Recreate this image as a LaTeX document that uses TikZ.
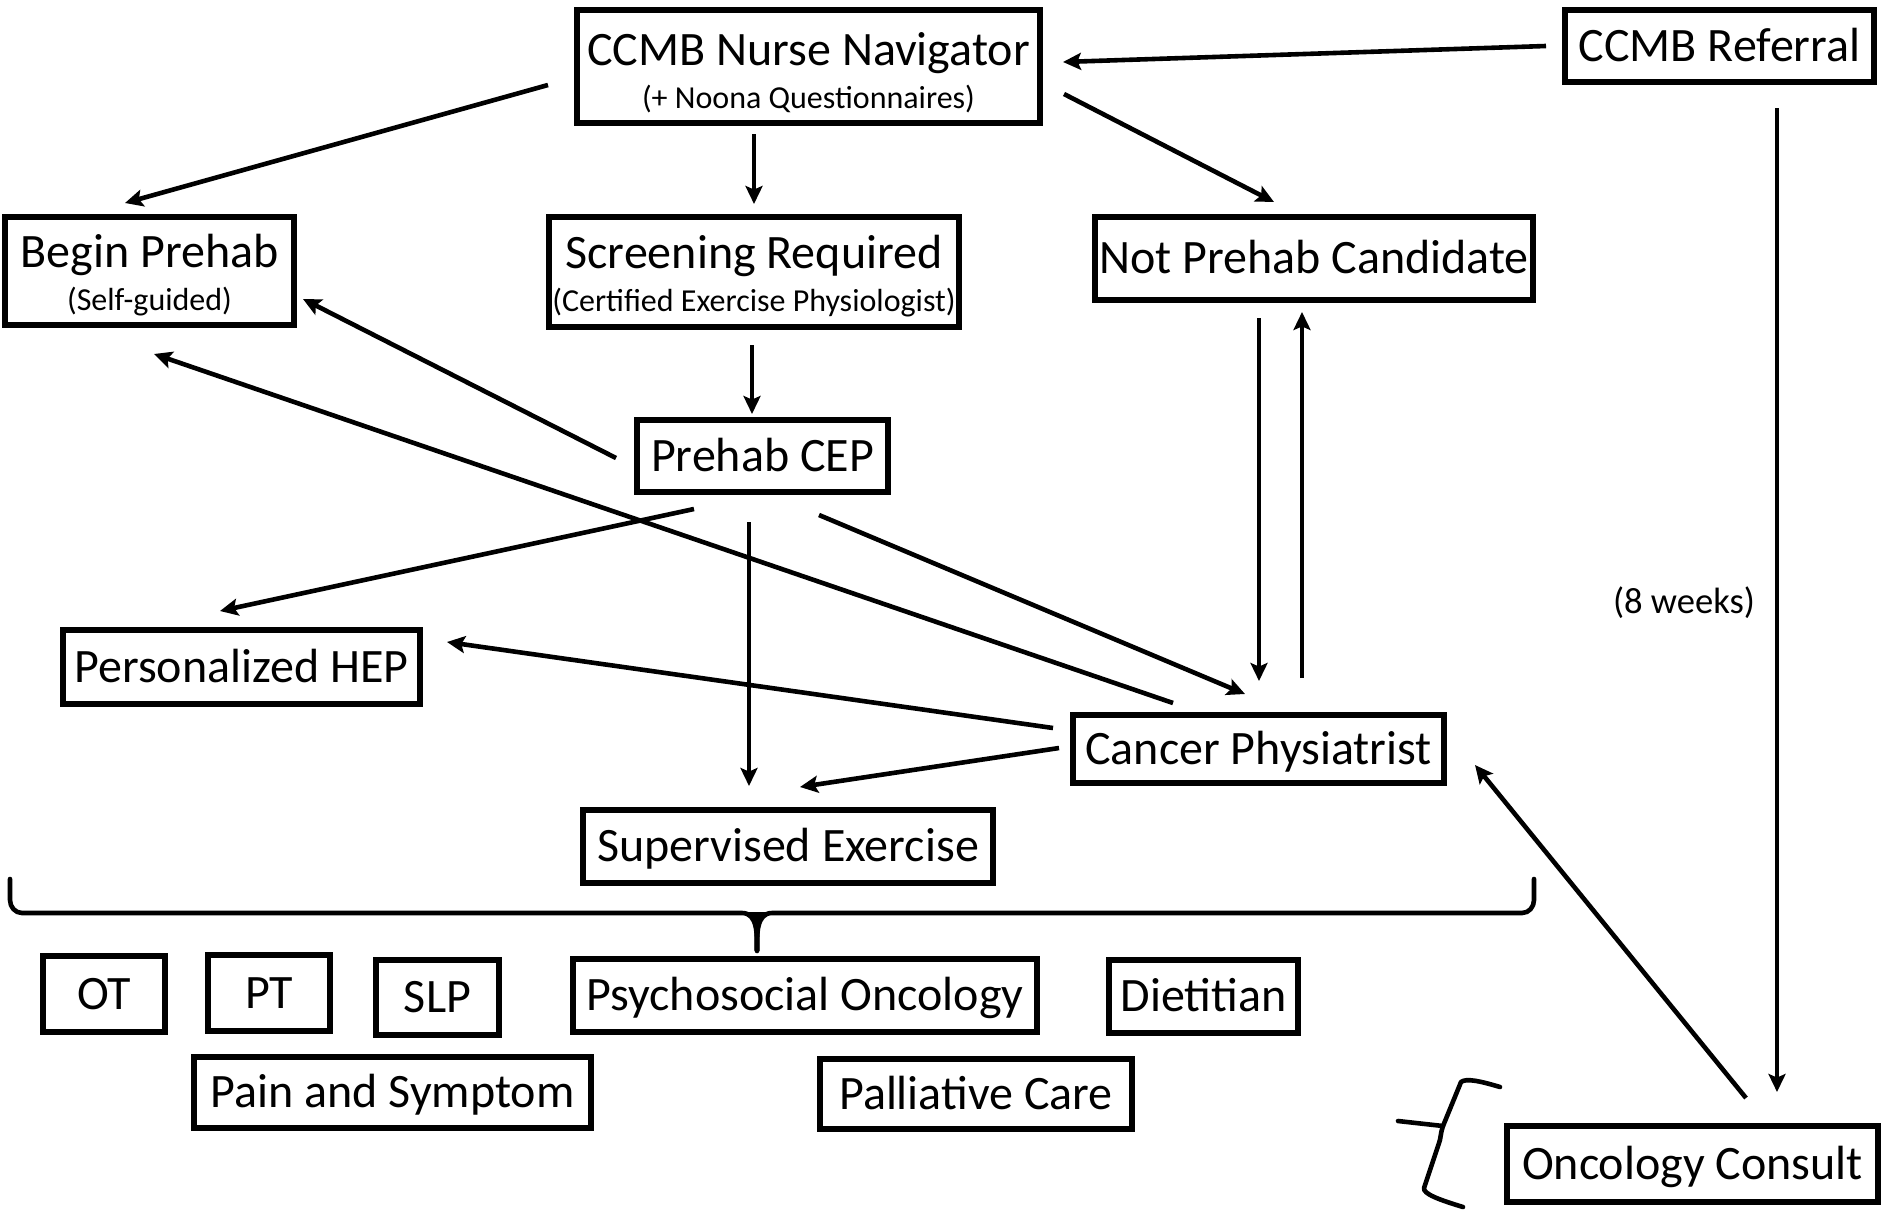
\documentclass[tikz,border=0pt]{standalone}
\usepackage{fontspec}
\setmainfont{Carlito}
\usetikzlibrary{arrows.meta,calc}
\newcommand\mfs{\fontsize{24pt}{28pt}\selectfont}
\newcommand\sfs{\fontsize{16pt}{19pt}\selectfont}
\newcommand\wfs{\fontsize{18.3pt}{22pt}\selectfont}
\begin{document}
\begin{tikzpicture}[x=0.5pt,y=-0.5pt,
  box/.style={draw,line width=2.8pt,inner sep=0pt,font=\mfs,text height=15.2pt,text depth=0pt},
  wh/.style 2 args={minimum width=#1*0.5pt-2.8pt,minimum height=#2*0.5pt-2.8pt},
  txtmain/.style={anchor=base,inner sep=0pt,font=\mfs},
  txtsmall/.style={anchor=base,inner sep=0pt,font=\sfs},
  arr/.style={line width=2.3pt,-{Stealth[length=9pt,width=8.5pt,inset=1.8pt]}},
  brace/.style={line width=2.3pt,line cap=round,line join=round}]
\useasboundingbox (0,0) rectangle (1883,1210);

% two-line boxes
\node[box,wh={469}{119}] (nav) at (808.5,66.5) {};
\node[txtmain] (navA) at (808.5,65) {CCMB Nurse Navigator};
\node[txtsmall] (navB) at (808.5,108) {(+ Noona Questionnaires)};

\node[box,wh={295}{114}] (begin) at (149.5,271) {};
\node[txtmain] (beginA) at (149.5,267) {Begin Prehab};
\node[txtsmall] (beginB) at (149.5,310) {(Self-guided)};

\node[box,wh={416}{116}] (screen) at (754,272) {};
\node[txtmain] (screenA) at (754,268) {Screening Required};
\node[txtsmall] (screenB) at (754,311) {(Certified Exercise Physiologist)};

% single-line boxes
\node[box,wh={315}{78}] (ref) at (1719.5,46) {CCMB Referral};
\node[box,wh={444}{89}] (notp) at (1314,258.5) {Not Prehab Candidate};
\node[box,wh={257}{78}] (cep) at (762.5,456) {Prehab CEP};
\node[box,wh={363}{80}] (hep) at (241.5,667) {Personalized HEP};
\node[box,wh={377}{74}] (phys) at (1258.5,749) {Cancer Physiatrist};
\node[box,wh={416}{79}] (sup) at (788,846.5) {Supervised Exercise};
\node[box,wh={128}{82}] (ot) at (104,994) {OT};
\node[box,wh={128}{82}] (pt) at (269,993) {PT};
\node[box,wh={129}{81}] (slp) at (437.5,997.5) {SLP};
\node[box,wh={470}{79}] (psy) at (805,995.5) {Psychosocial Oncology};
\node[box,wh={195}{79}] (diet) at (1203.5,996.5) {Dietitian};
\node[box,wh={403}{77}] (pain) at (392.5,1092.5) {Pain and Symptom};
\node[box,wh={318}{76}] (pall) at (976,1094) {Palliative Care};
\node[box,wh={377}{82}] (onc) at (1692.5,1164) {Oncology Consult};

\node[anchor=base,inner sep=0pt,font=\wfs] (weeks) at (1684,613) {(8 weeks)};

% connectors
\draw[arr] ($(ref)+(-173.5,0)$) -- ($(nav)+(254.5,-4.5)$);
\draw[arr] ($(nav)+(-260.5,18.5)$) -- ($(begin)+(-24.5,-68)$);
\draw[arr] ($(nav)+(-54.5,67.5)$) -- ($(screen)+(0,-68)$);
\draw[arr] ($(nav)+(255.5,27.5)$) -- ($(notp)+(-40,-56.5)$);
\draw[arr] ($(screen)+(-2,73)$) -- ($(cep)+(-10.5,-42)$);
\draw[arr] ($(cep)+(-146.5,2)$) -- ($(begin)+(153.5,28)$);
\draw[arr] ($(phys)+(-85.5,-46)$) -- ($(begin)+(4.5,83)$);
\draw[arr] ($(cep)+(-68.5,53)$) -- ($(hep)+(-21.5,-56)$);
\draw[arr] ($(cep)+(-13.5,66)$) -- ($(sup)+(-39,-60.5)$);
\draw[arr] ($(cep)+(56.5,59)$) -- ($(phys)+(-13.5,-55)$);
\draw[arr] ($(notp)+(-55,59.5)$) -- ($(phys)+(0.5,-68)$);
\draw[arr] ($(phys)+(43.5,-71)$) -- ($(notp)+(-12,53.5)$);
\draw[arr] ($(phys)+(-205.5,-21)$) -- ($(hep)+(205.5,-25)$);
\draw[arr] ($(phys)+(-199.5,-1)$) -- ($(sup)+(12,-59.5)$);
\draw[arr] ($(ref)+(57.5,62)$) -- ($(onc)+(84.5,-72)$);
\draw[arr] ($(onc)+(53.5,-66)$) -- ($(phys)+(216.5,16)$);

% big brace
\draw[brace] (10,879) -- (10,900) to[out=-90,in=180] (22,913) -- (742,913)
  to[out=0,in=90] (757,951) to[out=90,in=180] (772,913) -- (1522,913)
  to[out=0,in=-90] (1534,900) -- (1534,879);
\fill (746,912) .. controls (756,915) and (754,932) .. (754.5,951) -- (759.5,951)
  .. controls (760,932) and (758,915) .. (768,912) -- cycle;

% small brace by Oncology Consult
\draw[brace] (1500,1087) .. controls (1480,1081) and (1466,1078) .. (1461,1082)
  -- (1443,1126) -- (1398,1121);
\draw[brace] (1443,1126) .. controls (1440,1135) and (1441,1138) .. (1439,1143)
  -- (1424,1188) .. controls (1423,1194) and (1440,1200) .. (1463,1207);
\end{tikzpicture}
\end{document}
